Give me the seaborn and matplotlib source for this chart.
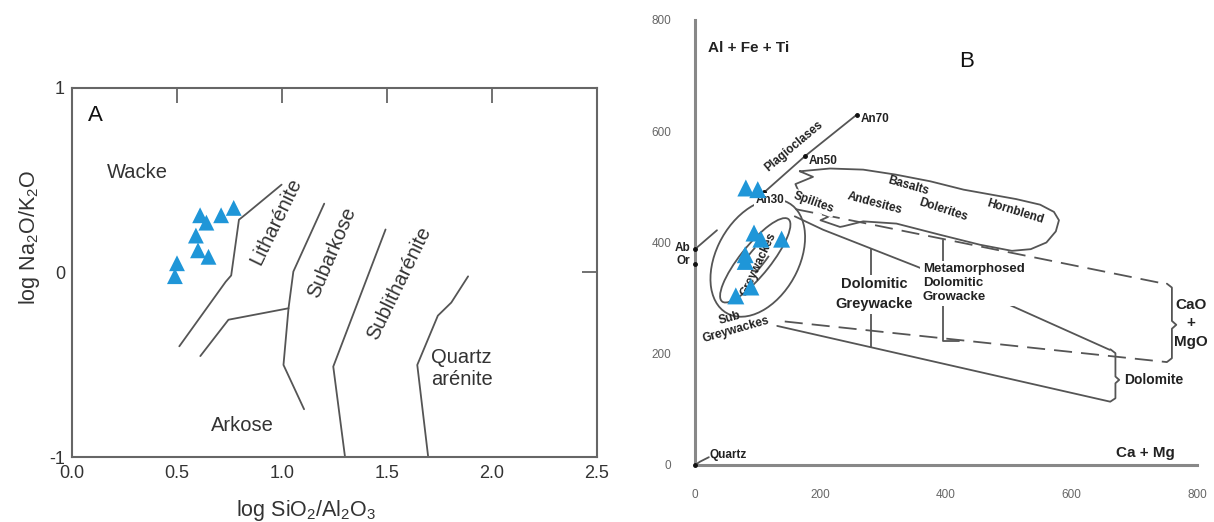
import numpy as np
import pandas as pd
import matplotlib
matplotlib.use('Agg')
import matplotlib.pyplot as plt
import seaborn as sns
from matplotlib.patches import Ellipse, Arc

# ---------------------------------------------------------
# PAINEL A - log SiO2/Al2O3 x log Na2O/K2O
# ---------------------------------------------------------
a_sio2_al2o3 = [0.50, 0.49, 0.60, 0.59, 0.61, 0.64, 0.65, 0.71, 0.77]
a_na2o_k2o = [0.05, -0.02, 0.12, 0.20, 0.31, 0.27, 0.085, 0.31, 0.35]

a_xticks = [0.0, 0.5, 1.0, 1.5, 2.0, 2.5]
a_xticklabels = ['0.0', '0.5', '1.0', '1.5', '2.0', '2.5']
a_yticks = [-1, 0, 1]
a_yticklabels = ['-1', '0', '1']

# limites dos campos
a_bounds = [
    ([0.511, 0.732, 0.758, 0.795, 0.828, 0.998], [-0.40, -0.05, -0.016, 0.286, 0.316, 0.476]),
    ([0.611, 0.745, 1.031], [-0.453, -0.256, -0.194]),
    ([1.201, 1.054, 1.031, 1.007, 1.105], [0.373, 0.005, -0.194, -0.501, -0.741]),
    ([1.493, 1.244, 1.300], [0.233, -0.510, -1.0]),
    ([1.886, 1.806, 1.742, 1.644, 1.696], [-0.021, -0.163, -0.234, -0.501, -1.0]),
]

a_labels = ['Wacke', 'Litharénite', 'Subarkose', 'Sublitharénite', 'Quartz\narénite', 'Arkose']
a_label_x = [0.31, 0.97, 1.24, 1.56, 1.71, 0.81]
a_label_y = [0.54, 0.28, 0.11, -0.06, -0.52, -0.83]
a_label_rot = [0, 64, 67, 64, 0, 0]
a_label_ha = ['center', 'center', 'center', 'center', 'left', 'center']

# ---------------------------------------------------------
# PAINEL B - (Al + Fe + Ti) x (Ca + Mg)
# ---------------------------------------------------------
b_ca_mg = [81, 100, 94, 105, 138, 80, 80, 89, 65]
b_al_fe_ti = [498, 495, 417, 406, 406, 378, 366, 320, 304]

b_ticks = [0, 200, 400, 600, 800]
b_minor = [100, 300, 500, 700]

# linhas do diagrama
b_plag_x = [110, 175, 258]
b_plag_y = [490, 555, 630]
b_plag_names = ['An30', 'An50', 'An70']

b_feld_x = [0, 0]
b_feld_y = [388, 362]
b_feld_names = ['Ab', 'Or']
b_ab_line_x = [0, 35]
b_ab_line_y = [388, 422]
b_qz_line_x = [0, 8, 22]
b_qz_line_y = [0, 6, 14]

b_basalt_x = [167, 215, 268, 320, 375, 428, 512, 550, 572, 580, 575, 560, 535, 505, 454, 390,
              321, 268, 236, 231, 200, 212, 195, 165, 160, 188, 167]
b_basalt_y = [528, 533, 531, 522, 510, 495, 478, 468, 455, 440, 420, 400, 388, 385, 396, 414,
              434, 438, 429, 428, 440, 446, 458, 492, 505, 518, 528]

b_upper_solid_x = [159, 204, 353, 483, 661]
b_upper_solid_y = [447, 423, 357, 297, 207]
b_lower_solid_x = [131, 661]
b_lower_solid_y = [250, 114]
b_upper_dash_x = [160, 752]
b_upper_dash_y = [460, 325]
b_lower_dash_x = [143, 752]
b_lower_dash_y = [258, 185]
b_vert_dolgw_x = [281, 281]
b_vert_dolgw_y = [389, 212]
b_vert_meta_x = [396, 396, 420]
b_vert_meta_y = [405, 223, 223]

b_brace_cao_x = [752, 760, 760, 767, 760, 760, 752]
b_brace_cao_y = [326, 319, 259, 252, 245, 192, 185]
b_brace_dol_x = [662, 670, 670, 676, 670, 670, 662]
b_brace_dol_y = [208, 201, 159, 153, 147, 120, 114]

# (centro x, centro y, largura, altura, angulo)
b_outer_ellipse = (100, 372, 222, 134, 67)
b_inner_ellipse = (96, 368, 182, 50, 55)

b_labels = ['Plagioclases', 'Spilites', 'Basalts', 'Andesites', 'Dolerites', 'Hornblend',
            'Greywackes', 'Sub', 'Greywackes', 'Quartz']
b_label_x = [157, 189, 340, 287, 396, 510, 101, 56, 66, 23]
b_label_y = [573, 471, 501, 471, 458, 456, 360, 264, 243, 18]
b_label_rot = [40, -20, -16, -15, -18, -17, 65, 15, 16, 0]
b_label_ha = ['center'] * 9 + ['left']


def main():
    sns.set_theme(style='white')
    plt.rcParams['font.family'] = ['Liberation Sans', 'DejaVu Sans']
    plt.rcParams['mathtext.default'] = 'regular'

    fig = plt.figure(figsize=(12.14, 5.22), dpi=100)
    line_col = '#555555'
    tri_col = '#1f96d8'

    # ---------------- painel A ----------------
    ax1 = fig.add_axes([0.0593, 0.1245, 0.4325, 0.707])
    for bx, by in a_bounds:
        ax1.plot(bx, by, color=line_col, lw=1.3)
    sns.scatterplot(x=a_sio2_al2o3, y=a_na2o_k2o, marker='^', s=130, color=tri_col,
                    edgecolor='none', ax=ax1, zorder=5)
    for t, x, y, r, ha in zip(a_labels, a_label_x, a_label_y, a_label_rot, a_label_ha):
        ax1.text(x, y, t, rotation=r, ha=ha, va='center', rotation_mode='anchor',
                 fontsize=14.5, color='#333333', linespacing=1.25)
    ax1.text(0.11, 0.85, 'A', fontsize=16, ha='center', va='center', color='#111111')

    ax1.set_xlim(0, 2.5)
    ax1.set_ylim(-1, 1)
    ax1.set_xticks(a_xticks)
    ax1.set_xticklabels(a_xticklabels)
    ax1.set_yticks(a_yticks)
    ax1.set_yticklabels(a_yticklabels)
    ax1.tick_params(direction='in', length=11, width=1.3, color='#666666', top=True, right=True,
                    labelsize=13, labelcolor='#333333')
    ax1.tick_params(axis='x', pad=6)
    ax1.tick_params(axis='y', pad=5)
    for s in ax1.spines.values():
        s.set_color('#666666')
        s.set_linewidth(1.5)
    ax1.set_xlabel('log SiO$_2$/Al$_2$O$_3$', fontsize=15.5, color='#333333')
    ax1.set_ylabel('log Na$_2$O/K$_2$O', fontsize=15.5, color='#333333')
    ax1.xaxis.set_label_coords(0.446, -0.112)
    ax1.yaxis.set_label_coords(-0.058, 0.596)

    # ---------------- painel B ----------------
    ax2 = fig.add_axes([0.5725, 0.1092, 0.4135, 0.8525])
    ax2.set_xlim(0, 800)
    ax2.set_ylim(0, 800)

    lw = 1.3
    dash = (0, (10, 5))
    ax2.plot(b_plag_x, b_plag_y, color=line_col, lw=lw)
    ax2.plot(b_plag_x, b_plag_y, 'o', color='#111111', ms=2.5)
    ax2.plot(b_feld_x, b_feld_y, 'o', color='#111111', ms=2.5, clip_on=False, zorder=6)
    ax2.plot(b_ab_line_x, b_ab_line_y, color=line_col, lw=lw)
    ax2.plot(b_qz_line_x, b_qz_line_y, color=line_col, lw=lw)
    ax2.plot([0], [0], 'o', color='#111111', ms=2.5, clip_on=False, zorder=6)
    ax2.plot(b_basalt_x, b_basalt_y, color=line_col, lw=lw)
    ax2.plot(b_upper_solid_x, b_upper_solid_y, color=line_col, lw=lw)
    ax2.plot(b_lower_solid_x, b_lower_solid_y, color=line_col, lw=lw)
    ax2.plot(b_upper_dash_x, b_upper_dash_y, color=line_col, lw=lw, linestyle=dash)
    ax2.plot(b_lower_dash_x, b_lower_dash_y, color=line_col, lw=lw, linestyle=dash)
    ax2.plot(b_vert_dolgw_x, b_vert_dolgw_y, color=line_col, lw=lw)
    ax2.plot(b_vert_meta_x, b_vert_meta_y, color=line_col, lw=lw)
    ax2.plot(b_brace_cao_x, b_brace_cao_y, color=line_col, lw=lw)
    ax2.plot(b_brace_dol_x, b_brace_dol_y, color=line_col, lw=lw)

    cx, cy, w, h, ang = b_outer_ellipse
    ax2.add_patch(Ellipse((cx, cy), w, h, angle=ang, fill=False, ec=line_col, lw=lw))
    cx, cy, w, h, ang = b_inner_ellipse
    ax2.add_patch(Ellipse((cx, cy), w, h, angle=ang, fill=False, ec=line_col, lw=lw))
    ax2.add_patch(Arc((cx, cy), w * 0.8, h * 0.55, angle=ang, theta1=35, theta2=145,
                      ec=line_col, lw=lw))
    ax2.add_patch(Arc((cx, cy), w * 0.8, h * 0.55, angle=ang, theta1=215, theta2=325,
                      ec=line_col, lw=lw))

    sns.scatterplot(x=b_ca_mg, y=b_al_fe_ti, marker='^', s=150, color=tri_col,
                    edgecolor='none', ax=ax2, zorder=7)

    txt = dict(fontweight='bold', color='#222222')
    wbox = dict(facecolor='white', edgecolor='none', pad=1.0)
    for t, x, y, r, ha in zip(b_labels, b_label_x, b_label_y, b_label_rot, b_label_ha):
        ax2.text(x, y, t, rotation=r, ha=ha, va='center', rotation_mode='anchor',
                 fontsize=8.5, zorder=4, bbox=wbox if t == 'Spilites' else None, **txt)
    for t, x, y in zip(b_plag_names, b_plag_x, b_plag_y):
        if t == 'An30':
            ax2.text(119, 476, t, fontsize=8.5, ha='center', va='center', bbox=wbox, zorder=4, **txt)
        else:
            ax2.text(x + 6, y - 8, t, fontsize=8.5, ha='left', va='center', **txt)
    for t, y in zip(b_feld_names, [390, 366]):
        ax2.text(-8, y, t, fontsize=8.5, ha='right', va='center', clip_on=False, **txt)

    ax2.text(285, 307, 'Dolomitic\nGreywacke', fontsize=10.5, ha='center', va='center',
             linespacing=1.5, bbox=dict(facecolor='white', edgecolor='none', pad=2), zorder=4, **txt)
    ax2.text(363, 327, 'Metamorphosed\nDolomitic\nGrowacke', fontsize=9.5, ha='left', va='center',
             linespacing=1.2, bbox=dict(facecolor='white', edgecolor='none', pad=2), zorder=4, **txt)
    ax2.text(790, 255, 'CaO\n+\nMgO', fontsize=11, ha='center', va='center', linespacing=1.4,
             clip_on=False, **txt)
    ax2.text(684, 153, 'Dolomite', fontsize=10, ha='left', va='center', clip_on=False, **txt)
    ax2.text(21, 749, 'Al + Fe + Ti', fontsize=11, ha='left', va='center', **txt)
    ax2.text(718, 22, 'Ca + Mg', fontsize=11, ha='center', va='center', clip_on=False, **txt)
    ax2.text(433, 726, 'B', fontsize=16, ha='center', va='center', color='#111111')

    ax2.set_xticks(b_ticks)
    ax2.set_yticks(b_ticks)
    ax2.set_xticks(b_minor, minor=True)
    ax2.set_yticks(b_minor, minor=True)
    ax2.tick_params(which='major', direction='out', length=13, width=2, color='#888888',
                    labelsize=8.5, labelcolor='#666666', pad=4)
    ax2.tick_params(which='minor', direction='out', length=6, width=2, color='#888888')
    for s in ['top', 'right']:
        ax2.spines[s].set_visible(False)
    for s in ['left', 'bottom']:
        ax2.spines[s].set_color('#888888')
        ax2.spines[s].set_linewidth(2.2)
    ax2.patch.set_alpha(0)

    fig.savefig('out.png', dpi=100)


if __name__ == "__main__":
    main()
